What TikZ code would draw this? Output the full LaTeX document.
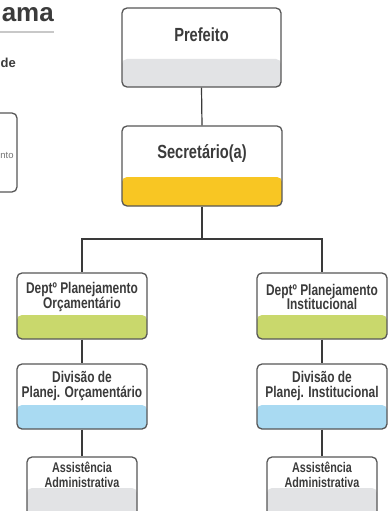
\documentclass[tikz,border=0pt]{standalone}
\usepackage{fontspec}
\setmainfont{Liberation Sans}
\newfontfamily\condbold{Liberation Sans}[FakeStretch=0.77]

\definecolor{edge}{HTML}{575757}
\definecolor{wire}{HTML}{3A3A3A}
\definecolor{ink}{HTML}{3B3B3B}
\definecolor{bandgray}{HTML}{E2E3E5}
\definecolor{bandyellow}{HTML}{F8C623}
\definecolor{bandgreen}{HTML}{C9D86C}
\definecolor{bandblue}{HTML}{A9DAF2}
\definecolor{rulegray}{HTML}{C8C8C8}

\begin{document}
\begin{tikzpicture}[x=1pt,y=-1pt,
  orgbox/.style n args={4}{draw=edge, line width=1.3pt, rounded corners=5pt,
    fill=white, minimum width=#1, minimum height=#2, inner sep=0pt,
    path picture={\fill[#4] (path picture bounding box.south west)
      rectangle ([yshift=#3]path picture bounding box.south east);}},
  toplbl/.style={font=\condbold\bfseries\fontsize{19}{21}\selectfont,
    text=ink, align=center, inner sep=0pt},
  lbl/.style={font=\condbold\bfseries\fontsize{15.5}{14.5}\selectfont,
    text=ink, align=center, inner sep=0pt},
  smalllbl/.style={font=\condbold\bfseries\fontsize{14}{14.5}\selectfont,
    text=ink, align=center, inner sep=0pt},
  wire/.style={draw=wire, line width=1.2pt}]

\useasboundingbox (0,0) rectangle (390,511);
\clip (0,0) rectangle (390,511);
\fill[white] (0,0) rectangle (390,511);

% heading fragments on the left
\node[anchor=base east, inner sep=0pt, text=ink,
  font=\bfseries\fontsize{26}{28}\selectfont] (title) at (54,22) {ama};
\draw[rulegray, line width=2pt] (0,32) -- (title.east |- 0,32);
\node[anchor=base east, inner sep=0pt, text=ink,
  font=\bfseries\fontsize{13}{15}\selectfont] (sub) at (16,67) {de};
\node[draw=edge, line width=1.3pt, rounded corners=5pt,
  minimum width=40pt, minimum height=79pt, inner sep=0pt] (side) at (-3,152.5) {};
\node[inner sep=0pt, text=black!55, font=\fontsize{9.5}{11}\selectfont]
  (sideT) at (7,155) {nto};

% boxes
\node[orgbox={159pt}{79pt}{28pt}{bandgray}]   (pref) at (201.5,47.5) {};
\node[orgbox={160pt}{80pt}{29pt}{bandyellow}] (sec)  at (202,166) {};
\node[orgbox={130pt}{66pt}{24pt}{bandgreen}]  (deptL) at (82,306) {};
\node[orgbox={130pt}{66pt}{24pt}{bandgreen}]  (deptR) at (322,306) {};
\node[orgbox={130pt}{65pt}{24pt}{bandblue}]   (divL) at (82,396.5) {};
\node[orgbox={130pt}{65pt}{24pt}{bandblue}]   (divR) at (322,396.5) {};
\node[orgbox={110pt}{68pt}{37pt}{bandgray}]   (asL) at (82,491) {};
\node[orgbox={110pt}{68pt}{37pt}{bandgray}]   (asR) at (322,491) {};

% labels
\node[toplbl] (prefT) at (201.5,35) {Prefeito};
\node[toplbl] (secT) at (202,154) {Secretário(a)};
\node[lbl] (deptLT) at (82,297) {Deptº Planejamento\\Orçamentário};
\node[lbl] (deptRT) at (322,297) {Deptº Planejamento\\Institucional};
\node[lbl] (divLT) at (82,386) {Divisão de\\Planej. Orçamentário};
\node[lbl] (divRT) at (322,386) {Divisão de\\Planej. Institucional};
\node[smalllbl] (asLT) at (82,475) {Assistência\\Administrativa};
\node[smalllbl] (asRT) at (322,475) {Assistência\\Administrativa};

% connectors
\coordinate (split) at (202,239);
\draw[wire] (pref.south) -- (sec.north);
\draw[wire] (sec.south) -- (split);
\draw[wire] (split) -| (deptL.north);
\draw[wire] (split) -| (deptR.north);
\draw[wire] (deptL.south) -- (divL.north);
\draw[wire] (deptR.south) -- (divR.north);
\draw[wire] (divL.south) -- (asL.north);
\draw[wire] (divR.south) -- (asR.north);
\end{tikzpicture}
\end{document}
